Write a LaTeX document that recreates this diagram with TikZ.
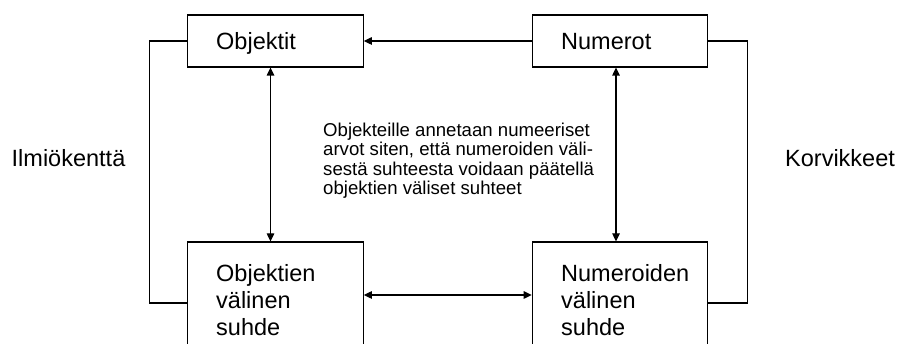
\documentclass[tikz,border=0pt]{standalone}
\usepackage{fontspec}
\setmainfont{Liberation Sans}
\usetikzlibrary{arrows.meta}
\begin{document}
\begin{tikzpicture}[x=1pt,y=-1pt,
  box/.style={draw,line width=1.2pt,inner sep=0pt,minimum width=175.5pt},
  conn/.style={line width=1.2pt},
  tipend/.style={-{Triangle[length=8pt,width=7.5pt]}},
  tipboth/.style={{Triangle[length=8pt,width=7.5pt]}-{Triangle[length=8pt,width=7.5pt]}},
  bigtxt/.style={inner sep=0pt,font=\fontsize{23.5}{27}\selectfont,align=left},
  smalltxt/.style={inner sep=0pt,font=\fontsize{18.6}{19.2}\selectfont,align=left}]
\useasboundingbox (0,0) rectangle (899,344);
\fill[white] (0,0) rectangle (899,344);
\clip (0,0) rectangle (899,344);
% boxes
\node[box,minimum height=52pt] (A) at (275.5,41) {};
\node[box,minimum height=52pt] (B) at (620,41) {};
\node[box,minimum height=140pt] (C) at (275.5,312) {};
\node[box,minimum height=140pt] (D) at (620,312) {};
% box texts
\node[bigtxt,anchor=base west] (tA) at (216,50) {Objektit};
\node[bigtxt,anchor=base west] (tB) at (561,50) {Numerot};
\node[bigtxt,anchor=north west] (tC) at (216,264) {Objektien\\välinen\\suhde};
\node[bigtxt,anchor=north west] (tD) at (561,264) {Numeroiden\\välinen\\suhde};
% side labels
\node[bigtxt,anchor=base west] (il) at (11.5,167) {Ilmiökenttä};
\node[bigtxt,anchor=base west] (ko) at (785,167) {Korvikkeet};
% middle text
\node[smalltxt,anchor=north west] (mid) at (323,123) {Objekteille annetaan numeeriset\\arvot siten, että numeroiden väli-\\sestä suhteesta voidaan päätellä\\objektien väliset suhteet};
% connectors
\draw[conn] (A.west) -- ++(-38,0) |- ([yshift=9pt]C.west);
\draw[conn] (B.east) -- ++(39,0) |- ([yshift=9pt]D.east);
\draw[conn,tipend] (B.west) -- (A.east);
\draw[conn,tipboth] ([yshift=17pt]C.east) -- ([yshift=17pt]D.west);
\draw[conn,tipboth] ([xshift=-5pt]A.south) -- ([xshift=-5pt]C.north);
\draw[conn,tipboth] ([xshift=-4pt]B.south) -- ([xshift=-4pt]D.north);
\end{tikzpicture}
\end{document}
